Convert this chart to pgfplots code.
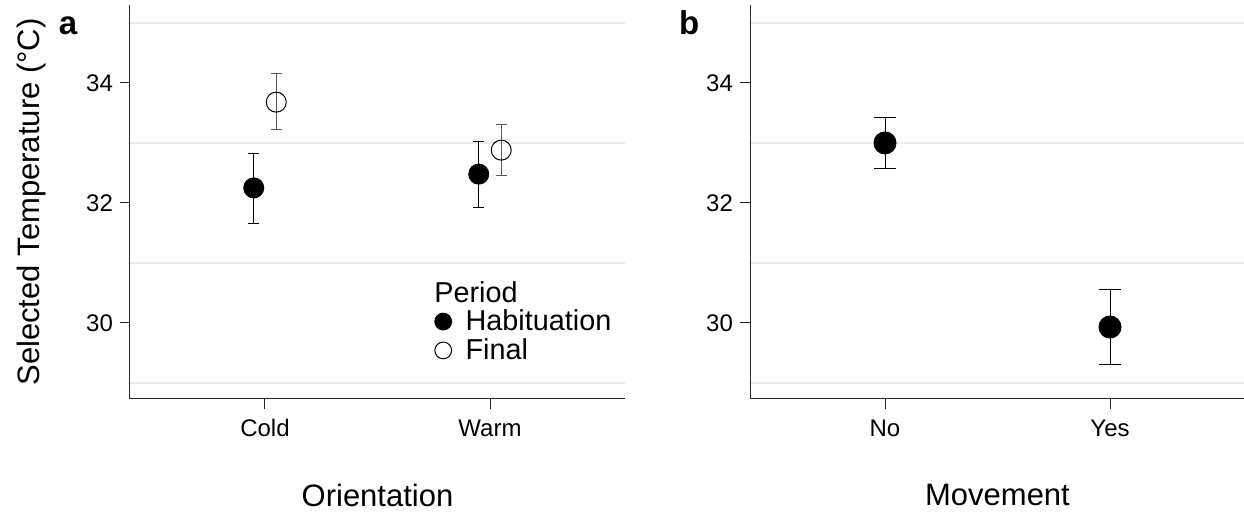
\documentclass[border=0pt]{standalone}
\usepackage{fontspec}
\setmainfont{Liberation Sans}
\usepackage{pgfplots}
\pgfplotsset{compat=1.18}

\pgfplotsset{
  panel/.style={
    scale only axis, width=247.5pt, height=197pt,
    xmin=0.4, xmax=2.6, ymin=28.73, ymax=35.3,
    axis lines=left, axis line style={-, line width=0.5pt, black!85},
    xtick={1,2}, ytick={30,32,34},
    minor ytick={29,31,33,35}, yminorgrids, minor tick length=0pt,
    minor grid style={color=black!8, line width=0.7pt},
    major tick length=5pt, tick align=outside, tick style={line width=0.5pt, black!85},
    tick label style={font=\fontsize{12}{14}\selectfont},
    xticklabel style={yshift=-1pt, text height=9pt},
    /pgf/number format/assume math mode=true,
    label style={font=\fontsize{15.5}{18}\selectfont},
    xlabel style={at={(axis description cs:0.5,-0.2437)}, anchor=center},
    ylabel style={at={(axis description cs:-0.2,0.5)}, anchor=center},
    clip=false,
  },
  % #1 marker radius, #2 cap half width, #3 error colour
  dot/.style n args={3}{only marks, mark=*, mark size=#1, black, mark options={line width=0.5pt},
    error bars/.cd, y dir=both, y explicit,
    error bar style={line width=0.5pt, #3},
    error mark options={rotate=90, mark size=#2, line width=0.5pt, #3}},
  ring/.style n args={3}{only marks, mark=o, mark size=#1, black, mark options={fill=white, line width=0.5pt},
    error bars/.cd, y dir=both, y explicit,
    error bar style={line width=0.5pt, #3},
    error mark options={rotate=90, mark size=#2, line width=0.5pt, #3}},
}

\begin{document}
\begin{tikzpicture}
\useasboundingbox (0,0) rectangle (622pt,257pt);

\begin{axis}[panel, name=pa, at={(65pt,57.5pt)}, anchor=south west,
  xticklabels={Cold,Warm},
  xlabel={Orientation}, ylabel={Selected Temperature (°C)},
  legend style={at={(rel axis cs:0.615,0.238)}, anchor=north west, draw=none, fill=none,
    font=\fontsize{14.4}{15}\selectfont, inner sep=0pt, row sep=-1.5pt,
    /tikz/every odd column/.append style={column sep=5pt}},
  legend cell align=left,
  legend image code/.code={\draw[#1, mark size=4.2pt] plot coordinates {(0.15cm,0cm)};},
]
\addplot[dot={5pt}{2.75pt}{black}] coordinates {
  (0.95,32.25) += (0,0.58) -= (0,0.60)
  (1.95,32.48) += (0,0.55) -= (0,0.55)
};
\addlegendentry{Habituation}
\addplot[ring={5pt}{2.75pt}{black!65}] coordinates {
  (1.05,33.68) += (0,0.47) -= (0,0.46)
  (2.05,32.88) += (0,0.42) -= (0,0.43)
};
\addlegendentry{Final}
\node[anchor=west, inner sep=0pt, font=\fontsize{14.4}{15}\selectfont] at (rel axis cs:0.614,0.27) {Period};
\node[anchor=base, font=\fontsize{16.5}{18}\selectfont\bfseries] at (rel axis cs:-0.125,0.924) {a};
\end{axis}

\begin{axis}[panel, name=pb, at={(375pt,57.5pt)}, anchor=south west,
  xticklabels={No,Yes},
  xlabel={Movement},
]
\addplot[dot={5.5pt}{5.5pt}{black}] coordinates {
  (1,33.00) += (0,0.43) -= (0,0.42)
  (2,29.93) += (0,0.63) -= (0,0.63)
};
\node[anchor=base, font=\fontsize{16.5}{18}\selectfont\bfseries] at (rel axis cs:-0.123,0.924) {b};
\end{axis}
\end{tikzpicture}
\end{document}
